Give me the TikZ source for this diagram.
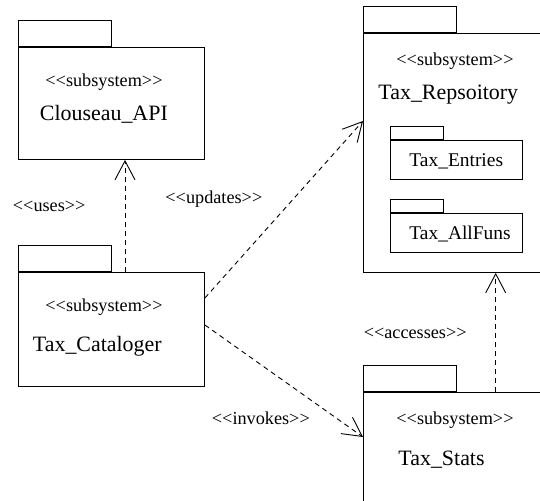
\documentclass[tikz,border=0pt]{standalone}
\usepackage{fontspec}
\setmainfont{Liberation Serif}
\usetikzlibrary{arrows.meta,calc}
\newcommand\lgu{<{}<}
\newcommand\rgu{>{}>}
\begin{document}
\begin{tikzpicture}[x=1bp,y=-1bp,
  line width=0.9bp,
  body/.style={draw, rectangle, inner sep=0pt, anchor=north west},
  tab/.style={draw, rectangle, inner sep=0pt, anchor=south west, minimum height=26bp, minimum width=93bp},
  smalltab/.style={draw, rectangle, inner sep=0pt, anchor=south west, minimum height=13bp, minimum width=53bp},
  stereo/.style={anchor=base west, inner sep=0pt, font=\fontsize{18.3}{20}\selectfont},
  bigname/.style={anchor=base west, inner sep=0pt, font=\fontsize{22}{24}\selectfont},
  subname/.style={anchor=base west, inner sep=0pt, font=\fontsize{19.5}{22}\selectfont},
  lbl/.style={anchor=base west, inner sep=0pt, font=\fontsize{18.3}{20}\selectfont},
  dep/.style={dashed, dash pattern=on 5bp off 4bp, -{Straight Barb[length=19bp,width=20bp]}}
]
\clip (0,0) rectangle (540,501);
\fill[white] (0,0) rectangle (540,501);

% Clouseau_API
\node[body, minimum width=186bp, minimum height=112bp] (api) at (18,47) {};
\node[tab] (apitab) at (api.north west) {};
\node[stereo] (apis) at (45,87) {\lgu subsystem\rgu};
\node[bigname] (apin) at (39.5,120.5) {Clouseau\_API};

% Tax_Repsoitory
\node[body, minimum width=200bp, minimum height=239bp] (repo) at (363,33) {};
\node[tab] (repotab) at (repo.north west) {};
\node[stereo] (repos) at (396,65.5) {\lgu subsystem\rgu};
\node[bigname] (repon) at (378,100) {Tax\_Repsoitory};
\node[body, minimum width=132bp, minimum height=39bp] (ent) at (390,140) {};
\node[smalltab] (enttab) at (ent.north west) {};
\node[subname] (entn) at (409,166.5) {Tax\_Entries};
\node[body, minimum width=132bp, minimum height=39bp] (all) at (390,213) {};
\node[smalltab] (alltab) at (all.north west) {};
\node[subname] (alln) at (409,239.5) {Tax\_AllFuns};

% Tax_Cataloger
\node[body, minimum width=186bp, minimum height=114bp] (cat) at (18,272) {};
\node[tab] (cattab) at (cat.north west) {};
\node[stereo] (cats) at (45,311.5) {\lgu subsystem\rgu};
\node[bigname] (catn) at (32.5,351.5) {Tax\_Cataloger};

% Tax_Stats
\node[body, minimum width=200bp, minimum height=130bp] (stats) at (363,391.5) {};
\node[tab] (statstab) at (stats.north west) {};
\node[stereo] (statss) at (396,424) {\lgu subsystem\rgu};
\node[bigname] (statsn) at (398,465) {Tax\_Stats};

% dependencies
\draw[dep] ([xshift=107bp]cat.north west) -- ([xshift=107bp]api.south west);
\draw[dep] ([yshift=-26bp]cat.north east) -- ([yshift=-88bp]repo.north west);
\draw[dep] ([yshift=-53bp]cat.north east) -- ([yshift=-45.5bp]stats.north west);
\draw[dep] ([xshift=132.7bp]stats.north west) -- ([xshift=132.7bp]repo.south west);

% labels
\node[lbl] (luses) at (12.5,211.5) {\lgu uses\rgu};
\node[lbl] (lupd) at (165,203.5) {\lgu updates\rgu};
\node[lbl] (lacc) at (363.3,338) {\lgu accesses\rgu};
\node[lbl] (linv) at (211.5,424) {\lgu invokes\rgu};
\end{tikzpicture}
\end{document}
